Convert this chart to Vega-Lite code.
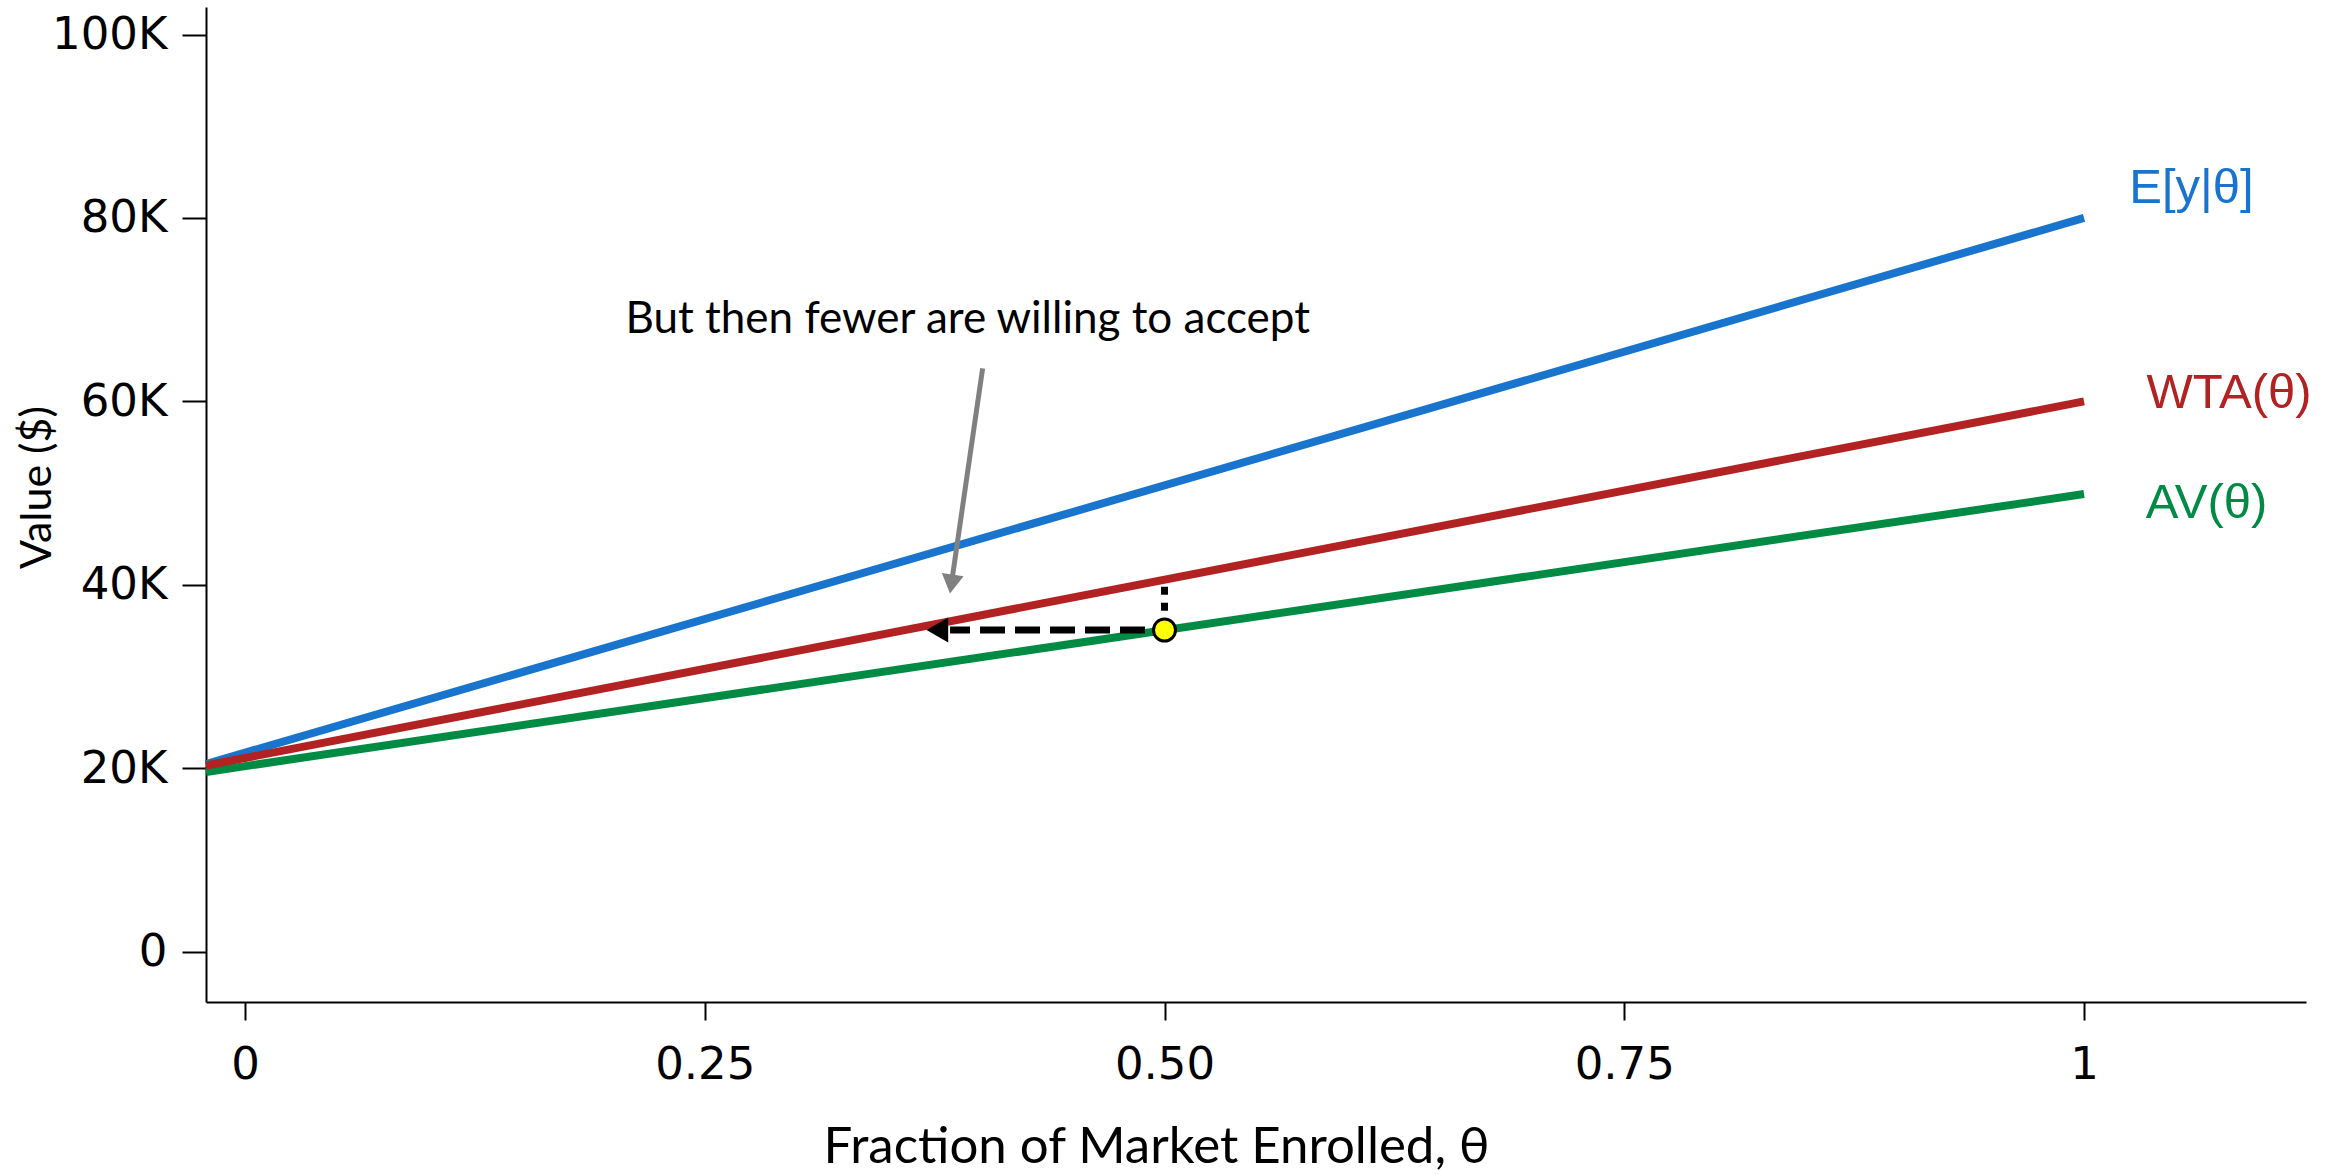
{
  "$schema": "https://vega.github.io/schema/vega-lite/v6.json",
  "width": 2100,
  "height": 995,
  "autosize": {"type": "none"},
  "padding": {"left": 206, "top": 7, "right": 32, "bottom": 173},
  "background": "white",
  "config": {
    "view": {"stroke": null},
    "axis": {
      "grid": false,
      "domainColor": "black",
      "domainWidth": 2,
      "tickColor": "black",
      "tickWidth": 2,
      "labelColor": "black",
      "labelFont": "DejaVu Sans",
      "labelFontSize": 45,
      "labelFlush": false,
      "labelOverlap": false,
      "titleColor": "black",
      "titleFont": "Lato",
      "titleFontWeight": "normal"
    }
  },
  "datasets": {
    "lines": [
      {"series": "E", "theta": -0.0212, "value": 20460},
      {"series": "E", "theta": 1, "value": 80000},
      {"series": "WTA", "theta": -0.0212, "value": 20300},
      {"series": "WTA", "theta": 1, "value": 60000},
      {"series": "AV", "theta": -0.0212, "value": 19600},
      {"series": "AV", "theta": 1, "value": 49900}
    ],
    "labels": [
      {"series": "E", "label": "E[y|θ]", "theta": 1.0246, "value": 81580},
      {"series": "WTA", "label": "WTA(θ)", "theta": 1.034, "value": 59230},
      {"series": "AV", "label": "AV(θ)", "theta": 1.0336, "value": 47240}
    ],
    "vdot": [{"theta": 0.5, "value": 39790, "value2": 36160}],
    "hdash": [{"theta": 0.4894, "theta2": 0.3834, "value": 35070}],
    "hhead": [{"theta": 0.3765, "value": 35070}],
    "grey": [{"theta": 0.4011, "value": 63590, "theta2": 0.3841, "value2": 40090}],
    "greyhead": [{"theta": 0.3841, "value": 40090}],
    "pt": [{"theta": 0.5, "value": 35070}],
    "note": [{"theta": 0.393, "value": 67470, "text": "But then fewer are willing to accept"}]
  },
  "encoding": {
    "x": {
      "field": "theta",
      "type": "quantitative",
      "scale": {"domain": [-0.0212, 1.1207], "nice": false, "zero": false},
      "axis": {
        "values": [0, 0.25, 0.5, 0.75, 1],
        "labelExpr": "datum.value == 0 ? '0' : datum.value == 1 ? '1' : format(datum.value, '.2f')",
        "title": "Fraction of Market Enrolled, θ",
        "titleFontSize": 51,
        "titleX": 950,
        "titleY": 160,
        "titleAlign": "center",
        "titleBaseline": "alphabetic",
        "tickSize": 18,
        "labelPadding": 22
      }
    },
    "y": {
      "field": "value",
      "type": "quantitative",
      "scale": {"domain": [-5480, 103000], "nice": false, "zero": false},
      "axis": {
        "values": [0, 20000, 40000, 60000, 80000, 100000],
        "labelExpr": "datum.value == 0 ? '0' : format(datum.value / 1000, 'd') + 'K'",
        "title": "Value ($)",
        "titleFontSize": 43,
        "titleAngle": -90,
        "titleX": -156,
        "titleY": 480,
        "titleAlign": "center",
        "titleBaseline": "alphabetic",
        "tickSize": 24,
        "labelPadding": 15
      }
    }
  },
  "layer": [
    {
      "data": {"name": "lines"},
      "transform": [{"filter": "datum.series == 'E'"}],
      "mark": {"type": "line", "strokeWidth": 8, "color": "#1874CD", "strokeCap": "butt"}
    },
    {
      "data": {"name": "lines"},
      "transform": [{"filter": "datum.series == 'AV'"}],
      "mark": {"type": "line", "strokeWidth": 8, "color": "#008B45", "strokeCap": "butt"}
    },
    {
      "data": {"name": "lines"},
      "transform": [{"filter": "datum.series == 'WTA'"}],
      "mark": {"type": "line", "strokeWidth": 8, "color": "#B22222", "strokeCap": "butt"}
    },
    {
      "data": {"name": "labels"},
      "mark": {"type": "text", "font": "Liberation Sans", "fontSize": 49, "align": "left", "baseline": "alphabetic"},
      "encoding": {
        "text": {"field": "label"},
        "color": {
          "field": "series",
          "type": "nominal",
          "scale": {"domain": ["E", "WTA", "AV"], "range": ["#1874CD", "#B22222", "#008B45"]},
          "legend": null
        }
      }
    },
    {
      "data": {"name": "vdot"},
      "mark": {"type": "rule", "color": "black", "strokeWidth": 7, "strokeDash": [8, 8]},
      "encoding": {"y2": {"field": "value2"}}
    },
    {
      "data": {"name": "hdash"},
      "mark": {"type": "rule", "color": "black", "strokeWidth": 7, "strokeDash": [25, 10]},
      "encoding": {"x2": {"field": "theta2"}}
    },
    {
      "data": {"name": "hhead"},
      "mark": {"type": "point", "shape": "triangle-left", "filled": true, "color": "black", "opacity": 1, "size": 625}
    },
    {
      "data": {"name": "grey"},
      "mark": {"type": "rule", "color": "#808080", "strokeWidth": 5},
      "encoding": {"x2": {"field": "theta2"}, "y2": {"field": "value2"}}
    },
    {
      "data": {"name": "greyhead"},
      "mark": {"type": "point", "shape": "triangle-down", "filled": true, "color": "#808080", "opacity": 1, "size": 484, "angle": 8.3}
    },
    {
      "data": {"name": "pt"},
      "mark": {"type": "point", "shape": "circle", "filled": true, "fill": "#FFFF00", "stroke": "black", "strokeWidth": 3, "opacity": 1, "size": 484}
    },
    {
      "data": {"name": "note"},
      "mark": {"type": "text", "font": "Lato", "fontSize": 44, "align": "center", "baseline": "alphabetic", "color": "black"},
      "encoding": {"text": {"field": "text"}}
    }
  ]
}
